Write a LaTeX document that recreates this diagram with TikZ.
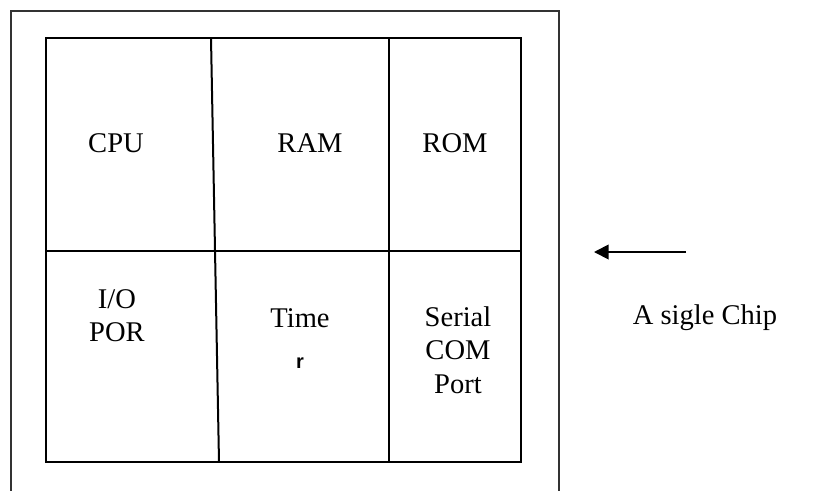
\documentclass[tikz,border=0pt]{standalone}
\usepackage{fontspec}
\setmainfont{Liberation Serif}
\newfontfamily\arialfont{Liberation Sans}
\usetikzlibrary{arrows.meta}
\tikzset{
  blocktext/.style={font=\fontsize{21.4}{25}\selectfont,align=center,inner sep=0pt},
  chipline/.style={line width=1.2pt,black!80},
  gridline/.style={line width=1.5pt,black}
}
\begin{document}
\begin{tikzpicture}[x=0.75pt,y=-0.75pt]
\useasboundingbox (0,0) rectangle (822,490);
% chip outline, open at the bottom
\draw[chipline](11,492)--(11,11)--(559,11)--(559,492);
% inner grid
\coordinate(NW)at(46,38);
\coordinate(SE)at(521,462);
\draw[gridline](NW)rectangle(SE);
\draw[gridline](46,251)--(521,251);
\draw[gridline](211,38)--(219,462);
\draw[gridline](389,38)--(389,462);
% blocks
\node[blocktext](cpu)at(116,143){CPU};
\node[blocktext](ram)at(310,143){RAM};
\node[blocktext](rom)at(455,143){ROM};
\node[blocktext](io)at(117,316){I/O\\POR};
\node[blocktext](timer)at(300,318){Time};
\node[font=\arialfont\bfseries\fontsize{15}{17}\selectfont,inner sep=0pt](timerr)at(300,363){r};
\node[blocktext](serial)at(458,350){Serial\\COM\\Port};
% label
\coordinate(arrtail)at(686,252);
\coordinate(arrhead)at(594,252);
\draw[line width=1.4pt,-{Triangle[length=11pt,width=11pt]}](arrtail)--(arrhead);
\node[blocktext](chip)at(705,318){A sigle Chip};
\end{tikzpicture}
\end{document}
